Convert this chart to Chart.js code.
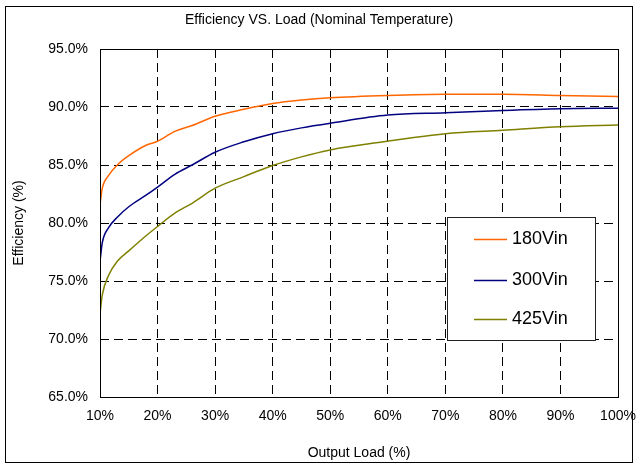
<!DOCTYPE html>
<html>
<head>
<meta charset="utf-8">
<script src="https://cdn.jsdelivr.net/npm/chart.js@4"></script>
<style>
  body { margin: 0; background: #fff; }
  canvas { display: block; }
</style>
</head>
<body>
<canvas id="myChart" width="637" height="466"></canvas>
<script>
// DATOS
const loads  = [10, 10.4, 11.5, 13, 15, 18, 20, 23, 26, 30, 35, 40, 45, 50, 60, 70, 80, 90, 100];
const eff180 = [81.6, 83.0, 84.1, 85.0, 85.8, 86.7, 87.05, 87.9, 88.4, 89.2, 89.8, 90.3, 90.6, 90.8, 91.0, 91.1, 91.1, 91.0, 90.9];
const eff300 = [76.7, 78.3, 79.6, 80.5, 81.4, 82.4, 83.1, 84.2, 85.0, 86.1, 87.0, 87.7, 88.2, 88.6, 89.3, 89.5, 89.7, 89.85, 89.9];
const eff425 = [72.2, 73.8, 75.5, 76.7, 77.6, 78.9, 79.7, 80.85, 81.7, 83.0, 84.0, 84.95, 85.7, 86.3, 87.05, 87.7, 88.0, 88.3, 88.45];
const seriesNames = ['180Vin', '300Vin', '425Vin'];
const seriesColors = ['#FF6600', '#000080', '#808000'];
const chartTitle = 'Efficiency VS. Load (Nominal Temperature)';

Chart.defaults.font.family = '"Liberation Sans", Arial, sans-serif';
Chart.defaults.color = '#000';

function toPoints(values) {
    return loads.map((x, i) => ({ x: x, y: values[i] }));
}

// marco exterior, fondo y título
const frame = {
    id: 'frame',
    beforeDraw(chart) {
        const ctx = chart.ctx;
        ctx.save();
        ctx.fillStyle = '#fff';
        ctx.fillRect(0, 0, chart.width, chart.height);
        ctx.strokeStyle = '#000';
        ctx.lineWidth = 1;
        ctx.strokeRect(5.5, 6.5, 627, 456);
        ctx.fillStyle = '#000';
        ctx.font = '14px "Liberation Sans", Arial, sans-serif';
        ctx.textAlign = 'center';
        ctx.textBaseline = 'middle';
        ctx.fillText(chartTitle, 319, 20);
        ctx.restore();
    },
    afterDraw(chart) {
        const a = chart.chartArea;
        const ctx = chart.ctx;
        ctx.save();
        ctx.strokeStyle = '#000';
        ctx.lineWidth = 1;
        ctx.strokeRect(Math.round(a.left) + 0.5, Math.round(a.top) + 0.5,
            Math.round(a.right - a.left), Math.round(a.bottom - a.top));
        ctx.restore();
    }
};

// leyenda dentro del área
const legendBox = {
    id: 'legendBox',
    afterDraw(chart) {
        const ctx = chart.ctx;
        ctx.save();
        ctx.fillStyle = '#fff';
        ctx.fillRect(447, 217, 148, 123);
        ctx.strokeStyle = '#222';
        ctx.lineWidth = 1;
        ctx.strokeRect(447.5, 217.5, 148, 123);
        const rows = [239, 280, 319];
        ctx.font = '18px "Liberation Sans", Arial, sans-serif';
        ctx.textBaseline = 'middle';
        ctx.textAlign = 'left';
        chart.data.datasets.forEach((ds, i) => {
            ctx.strokeStyle = ds.borderColor;
            ctx.lineWidth = 1.5;
            ctx.beginPath();
            ctx.moveTo(474, rows[i] + 0.5);
            ctx.lineTo(507, rows[i] + 0.5);
            ctx.stroke();
            ctx.fillStyle = '#000';
            ctx.fillText(ds.label, 512, rows[i]);
        });
        ctx.restore();
    }
};

const ctx = document.getElementById('myChart');

const myChart = new Chart(ctx, {
    type: 'line',
    data: {
        datasets: [eff180, eff300, eff425].map((v, i) => ({
            label: seriesNames[i],
            data: toPoints(v),
            borderColor: seriesColors[i],
            backgroundColor: seriesColors[i],
            borderWidth: 1.5,
            pointRadius: 0,
            cubicInterpolationMode: 'monotone',
            fill: false
        }))
    },
    options: {
        responsive: false,
        animation: false,
        layout: { padding: { left: 0, right: 19, top: 49, bottom: 0 } },
        plugins: {
            legend: { display: false },
            tooltip: { enabled: false },
            title: { display: false }
        },
        scales: {
            x: {
                type: 'linear',
                min: 10,
                max: 100,
                ticks: {
                    stepSize: 10,
                    padding: 11,
                    font: { size: 14 },
                    maxRotation: 0,
                    callback: v => v + '%'
                },
                grid: { color: '#000', lineWidth: 1, drawTicks: false },
                border: { display: false, dash: [9, 5] },
                title: {
                    display: true,
                    text: 'Output Load (%)',
                    font: { size: 14 },
                    padding: { top: 0, bottom: 4 }
                },
                afterFit(scale) {
                    scale.height = 69;
                    scale.paddingLeft = 0;
                    scale.paddingRight = 0;
                }
            },
            y: {
                min: 65,
                max: 95,
                ticks: {
                    stepSize: 5,
                    padding: 12,
                    font: { size: 14 },
                    callback: v => v.toFixed(1) + '%'
                },
                grid: { color: '#000', lineWidth: 1, drawTicks: false },
                border: { display: false, dash: [9, 5] },
                title: {
                    display: true,
                    text: 'Efficiency (%)',
                    font: { size: 14 },
                    padding: { top: 11, bottom: 0 }
                },
                afterFit(scale) {
                    scale.width = 100;
                    scale.paddingTop = 0;
                    scale.paddingBottom = 0;
                }
            }
        }
    },
    plugins: [frame, legendBox]
});
</script>
</body>
</html>
